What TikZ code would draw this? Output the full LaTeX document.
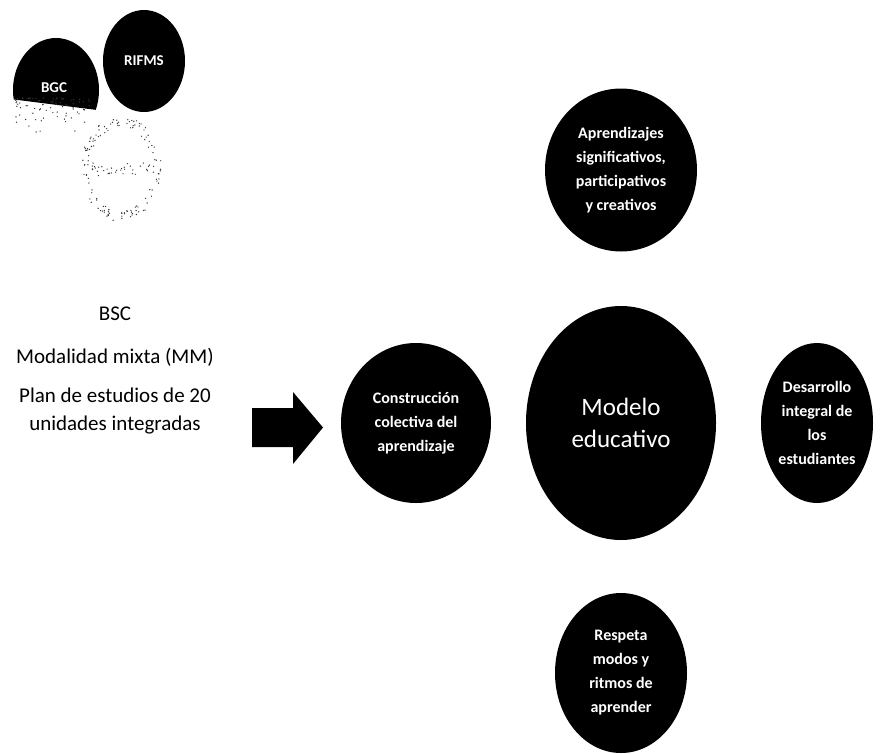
\documentclass[tikz,border=0pt]{standalone}
\usepackage{fontspec}
\setmainfont{Carlito}
\usetikzlibrary{shapes.geometric}
\tikzset{
  blob/.style={ellipse, fill=black, text=white, inner sep=0pt, align=center,
    font=\bfseries\fontsize{16}{24}\selectfont},
  bigblob/.style={blob, font=\fontsize{25}{32}\selectfont},
  lefttext/.style={anchor=base, inner sep=0pt, font=\fontsize{21}{25}\selectfont},
  smalltag/.style={text=white, inner sep=0pt, font=\bfseries\fontsize{15}{18}\selectfont},
  speck/.style={fill=black!80}
}
\begin{document}
\begin{tikzpicture}[x=1pt,y=-1pt]
\useasboundingbox (0,0) rectangle (881,753);
% top-left cluster
\begin{scope}
  \clip (5,30) -- (105,30) -- (105,111) -- (10,99) -- cycle;
  \fill (56,90) ellipse [x radius=43, y radius=52];
\end{scope}
\node[smalltag] (bgc) at (54,88) {BGC};
\node[ellipse, fill=black, minimum width=82pt, minimum height=102pt, inner sep=0pt] (rifms) at (144,61) {};
\node[smalltag] (rifmslbl) at (rifms.center) {RIFMS};
\pgfmathsetseed{11}
\foreach \i in {1,...,130}{
  \pgfmathsetmacro\ang{360*rnd}
  \pgfmathsetmacro\rr{0.85+0.22*rnd}
  \fill[speck] ({121+38*\rr*cos(\ang)},{169+49*\rr*sin(\ang)}) circle (0.7);
}
\foreach \i in {1,...,35}{
  \pgfmathsetmacro\px{92+58*rnd}
  \pgfmathsetmacro\py{163+14*rnd}
  \fill[speck] (\px,\py) circle (0.7);
}
\foreach \i in {1,...,80}{
  \pgfmathsetmacro\px{15+75*rnd}
  \pgfmathsetmacro\py{98+40*rnd*rnd}
  \fill[speck] (\px,\py) circle (0.7);
}
% left texts
\node[lefttext] (bsc) at (115,320) {BSC};
\node[lefttext] (mm) at (115,363) {Modalidad mixta (MM)};
\node[lefttext] (plan) at (115,402) {Plan de estudios de 20};
\node[lefttext] (unid) at (115,430) {unidades integradas};
% block arrow
\fill (252,408) -- (293,408) -- (293,392) -- (323,427.5) -- (293,464) -- (293,447) -- (252,447) -- cycle;
% circles
\node[blob, minimum width=150pt, minimum height=160pt] (constr) at (416,423)
  {Construcción\\colectiva del\\aprendizaje};
\node[bigblob, minimum width=190pt, minimum height=234pt] (modelo) at (621,423)
  {Modelo\\educativo};
\node[blob, minimum width=152pt, minimum height=163pt] (aprend) at (621,170)
  {Aprendizajes\\significativos,\\participativos\\y creativos};
\node[blob, minimum width=112pt, minimum height=160pt] (desarr) at (817,423)
  {Desarrollo\\integral de\\los\\estudiantes};
\node[blob, minimum width=132pt, minimum height=160pt] (respeta) at (621,673)
  {Respeta\\modos y\\ritmos de\\aprender};
\end{tikzpicture}
\end{document}
